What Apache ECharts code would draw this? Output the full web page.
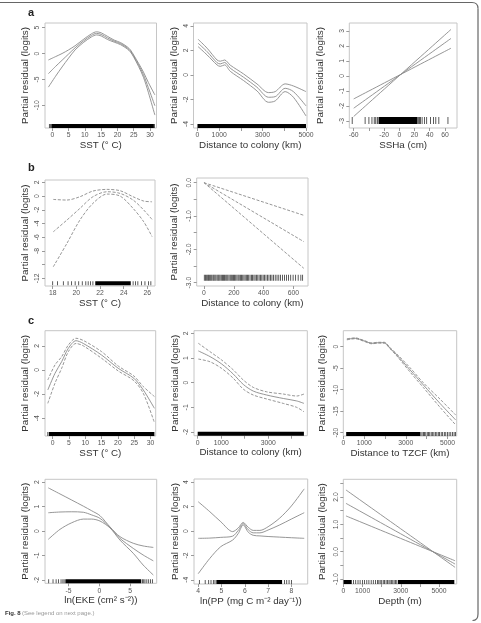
<!DOCTYPE html>
<html><head><meta charset="utf-8">
<script src="https://cdn.jsdelivr.net/npm/echarts@6/dist/echarts.min.js"></script>
<style>html,body{margin:0;padding:0;background:#fff}#c{width:481px;height:623px}</style>
</head><body><div id="c"></div>
<script>
// ================= DATA =================
const yTitle = 'Partial residual (logits)';

// ---- panel a1 : SST ----
const a1X   = [-1.2, 1, 3, 5, 7, 9.5, 12, 13.6, 15, 17, 19, 21, 23, 24, 25, 26.5, 28, 29.5, 31.5];
const a1Fit = [-3.9, -2.5, -1.3, -0.1, 1.1, 2.4, 3.5, 3.9, 3.7, 3.0, 2.4, 1.9, 1.1, 0.5, -0.5, -2.2, -4.1, -6.6, -10.1];
const a1Up  = [-1.25, -0.6, 0.0, 0.7, 1.5, 2.7, 3.8, 4.2, 4.0, 3.3, 2.6, 2.1, 1.3, 0.7, -0.3, -1.9, -3.6, -5.6, -8.0];
const a1Lo  = [-6.5, -4.4, -2.6, -0.9, 0.7, 2.1, 3.2, 3.6, 3.4, 2.7, 2.2, 1.7, 0.9, 0.3, -0.7, -2.5, -4.6, -7.5, -11.9];
const a1XTicks = [0, 5, 10, 15, 20, 25, 30];
const a1YTicks = [-10, -5, 0, 5];
const a1RugBands = [[-0.3, 31.2]];
const a1RugTicks = [-0.9, -0.6, 31.4];

// ---- panel a2 : distance to colony ----
const a2X   = [30, 445, 900, 1050, 1250, 1510, 2125, 2740, 3270, 3580, 4040, 4420, 5000];
const a2Fit = [2.59, 1.9, 1.0, 0.9, 1.02, 0.55, -0.19, -1.0, -1.82, -1.77, -1.09, -1.36, -2.53];
const a2Up  = [2.91, 2.18, 1.22, 1.12, 1.22, 0.8, 0.08, -0.73, -1.44, -1.36, -0.73, -0.9, -1.36];
const a2Lo  = [2.31, 1.63, 0.82, 0.7, 0.82, 0.3, -0.46, -1.3, -2.23, -2.12, -1.36, -1.82, -3.35];
const a2XTicks = [0, 1000, 2000, 3000, 4000, 5000];
const a2XLabels = [0, 1000, 3000, 5000];
const a2YTicks = [-4, -2, 0, 2, 4];
const a2RugBands = [[0, 5000]];
const a2RugTicks = [];

// ---- panel a3 : SSHa ----
const a3X  = [-60, 68];
const a3L1 = [-1.53, 1.85];
const a3L2 = [-2.15, 2.5];
const a3L3 = [-2.7, 3.1];
const a3XTicks = [-60, -40, -20, 0, 20, 40, 60];
const a3XLabels = [-60, -20, 0, 20, 40, 60];
const a3YTicks = [-3, -2, -1, 0, 1, 2, 3];
const a3RugBands = [[-27, 24]];
const a3RugTicks = [-62, -45, -40, -36, -33, -31, -29, -28, 25, 26.5, 28, 30, 33, 36, 41, 45, 48, 52, 64];

// ---- panel b1 : SST ----
const b1X   = [18.05, 19.2, 20.3, 21.4, 22.6, 23.7, 24.8, 25.7, 26.4];
const b1Up  = [-0.49, -0.58, -0.1, 0.73, 0.97, 0.78, -0.1, -0.73, -0.83];
const b1Fit = [-5.2, -3.5, -1.8, -0.1, 0.63, 0.39, -0.58, -2.04, -3.4];
const b1Lo  = [-10.3, -6.9, -3.5, -1.07, 0.29, 0.0, -1.8, -3.75, -5.9];
const b1XTicks = [18, 20, 22, 24, 26];
const b1YTicks = [-12, -10, -8, -6, -4, -2, 0, 2];
const b1YLabels = [-12, -8, -6, -4, -2, 0, 2];
const b1RugBands = [[21.6, 24.6]];
const b1RugTicks = [18.0, 18.4, 18.9, 19.3, 19.6, 19.9, 20.2, 20.5, 20.8, 21.0, 21.2, 21.4, 24.8, 25.0, 25.2, 25.5, 25.8, 26.1, 26.3];

// ---- panel b2 : distance to colony ----
const b2X   = [0, 670];
const b2Up  = [0, -0.98];
const b2Fit = [0, -1.77];
const b2Lo  = [0, -2.57];
const b2XTicks = [0, 200, 400, 600];
const b2YTicks = [-3, -2.5, -2, -1.5, -1, -0.5, 0];
const b2YLabels = [-3, -2, -1, 0];
const b2RugBands = [];
const b2RugTicks = [2, 10, 18, 25, 31, 38, 45, 52, 60, 66, 73, 80, 88, 95, 101, 108, 116, 124, 131, 138, 146, 153, 160, 168, 176, 183, 190, 198, 205, 213, 221, 229, 236, 244, 252, 260, 268, 276, 284, 292, 300, 309, 318, 326, 335, 343, 352, 361, 370, 379, 388, 397, 406, 416, 426, 436, 446, 456, 467, 478, 490, 502, 514, 527, 540, 553, 567, 582, 598, 615, 632, 650, 662];

// ---- panel c1 : SST ----
const c1X   = [-1.5, 0.7, 2.75, 4.8, 7.15, 9.4, 15, 20.1, 24.9, 27.8, 31.2];
const c1Up  = [-0.83, 0.42, 1.1, 2.07, 2.63, 2.45, 1.52, 0.33, -0.5, -1.38, -2.2];
const c1Fit = [-1.66, -0.28, 0.69, 1.8, 2.43, 2.2, 1.24, 0.14, -0.69, -1.66, -3.18];
const c1Lo  = [-2.77, -1.1, 0.14, 1.52, 2.2, 2.0, 0.97, -0.08, -0.89, -1.94, -4.37];
const c1XTicks = [0, 5, 10, 15, 20, 25, 30];
const c1YTicks = [-4, -2, 0, 2];
const c1RugBands = [[-1.2, 31.2]];
const c1RugTicks = [-1.5];

// ---- panel c2 : distance to colony ----
const c2X   = [26, 523, 1020, 1515, 1940, 2366, 2936, 3643, 4213, 4523];
const c2Up  = [1.6, 1.26, 0.92, 0.52, 0.11, -0.19, -0.37, -0.46, -0.54, -0.46];
const c2Fit = [1.29, 1.06, 0.76, 0.35, -0.07, -0.34, -0.5, -0.64, -0.74, -0.84];
const c2Lo  = [0.96, 0.85, 0.58, 0.18, -0.26, -0.5, -0.66, -0.84, -1.0, -1.18];
const c2XTicks = [0, 1000, 2000, 3000, 4000];
const c2XLabels = [0, 1000, 3000];
const c2YTicks = [-2, -1, 0, 1, 2];
const c2RugBands = [[0, 4520]];
const c2RugTicks = [];

// ---- panel c3 : distance to TZCF ----
const c3X   = [168, 566, 965, 1368, 1684, 1958, 2246, 2567, 3205, 3844, 4645, 5398];
const c3Up  = [1.85, 2.05, 1.5, 0.88, 1.03, 1.03, -0.25, -1.7, -4.9, -8.4, -12.2, -15.9];
const c3Fit = [1.72, 1.95, 1.4, 0.78, 0.93, 0.93, -0.38, -1.93, -5.4, -8.9, -13.2, -17.05];
const c3Lo  = [1.6, 1.85, 1.3, 0.68, 0.83, 0.83, -0.5, -2.15, -5.9, -9.5, -14.1, -18.2];
const c3XTicks = [0, 1000, 2000, 3000, 4000, 5000];
const c3XLabels = [0, 1000, 3000, 5000];
const c3YTicks = [-20, -15, -10, -5, 0];
const c3RugBands = [[134, 3685]];
const c3RugTicks = [3720, 3780, 3850, 3900, 3960, 4030, 4090, 4150, 4220, 4290, 4350, 4420, 4490, 4560, 4620, 4700, 4770, 4850, 4920, 5000, 5080, 5160, 5240, 5320, 5390];

// ---- panel d1 : ln(EKE) ----
const d1X   = [-8.27, -6.37, -4.47, -2.59, -1.23, 0.11, 1.73, 3.35, 5.5, 7.1, 8.75];
const d1Up  = [1.77, 1.52, 1.27, 1.02, 0.83, 0.63, 0.17, -0.23, -0.5, -0.61, -0.67];
const d1Fit = [0.75, 0.78, 0.79, 0.77, 0.66, 0.52, 0.15, -0.3, -0.71, -0.98, -1.22];
const d1Lo  = [-0.34, 0.07, 0.34, 0.49, 0.49, 0.41, 0.13, -0.37, -0.91, -1.39, -1.8];
const d1XTicks = [-5, 0, 5];
const d1YTicks = [-2, -1, 0, 1, 2];
const d1RugBands = [[-5.5, 6.8]];
const d1RugTicks = [-8.2, -7.5, -7.0, -6.6, -6.2, -5.9, -5.7, 7.0, 7.2, 7.4, 7.7, 8.0, 8.3, 8.6];

// ---- panel d2 : ln(PP) ----
const d2X   = [4.0, 4.5, 4.97, 5.48, 5.72, 5.93, 6.15, 6.36, 6.65, 7.0, 7.5, 8.0, 8.55];
const d2Up  = [2.4, 1.58, 0.76, -0.05, 0.25, 0.7, 0.3, 0.05, 0.05, 0.35, 1.06, 2.05, 3.45];
const d2Fit = [-0.6, -0.58, -0.52, -0.42, 0.05, 0.6, 0.1, -0.15, -0.15, 0.08, 0.5, 0.98, 1.5];
const d2Lo  = [-3.5, -2.24, -1.28, -0.74, -0.2, 0.5, -0.1, -0.35, -0.4, -0.45, -0.5, -0.55, -0.6];
const d2XTicks = [4, 5, 6, 7, 8];
const d2YTicks = [-4, -2, 0, 2, 4];
const d2RugBands = [[4.8, 7.6]];
const d2RugTicks = [4.05, 4.3, 4.45, 4.55, 4.65, 4.72, 4.78, 7.7, 7.8, 7.9, 8.0];

// ---- panel d3 : depth ----
const d3X  = [130, 5840];
const d3L1 = [2.26, -0.57];
const d3L2 = [1.77, -0.45];
const d3L3 = [1.31, -0.33];
const d3XTicks = [0, 1000, 2000, 3000, 4000, 5000];
const d3XLabels = [0, 1000, 3000, 5000];
const d3YTicks = [-1, -0.5, 0, 0.5, 1, 1.5, 2, 2.5];
const d3YLabels = [-1, 0, 1, 2];
const d3RugBands = [[0, 430], [2850, 5800]];
const d3RugTicks = [520, 640, 760, 870, 990, 1100, 1220, 1330, 1450, 1560, 1680, 1780, 1850, 1920, 2000, 2080, 2150, 2230, 2300, 2380, 2440, 2520, 2580, 2650, 2720, 2790];

// ================= LAYOUT / STYLE =================
const SOLID = 'solid', DASH = [3, 1.6];
const panels = [
  {box:[45,23,156.5,128], xr:[-2.24,32.0], yr:[-14.4,5.9], xTitle:'SST (° C)', xT:a1XTicks, xL:a1XTicks, yT:a1YTicks, yL:a1YTicks, dec:0,
   lines:[[a1X,a1Up,SOLID],[a1X,a1Fit,SOLID],[a1X,a1Lo,SOLID]], bands:a1RugBands, ticks:a1RugTicks, rugBase:null, rugH:4, xng:12, yng:15},
  {box:[193.5,23,307,128], xr:[-183,5046], yr:[-4.33,4.24], xTitle:'Distance to colony (km)', xT:a2XTicks, xL:a2XLabels, yT:a2YTicks, yL:a2YTicks, dec:0,
   lines:[[a2X,a2Up,SOLID],[a2X,a2Fit,SOLID],[a2X,a2Lo,SOLID]], bands:a2RugBands, ticks:a2RugTicks, rugBase:null, rugH:4, xng:12, yng:14},
  {box:[349.3,23,457,128], xr:[-65.8,75.9], yr:[-3.47,3.53], xTitle:'SSHa (cm)', xT:a3XTicks, xL:a3XLabels, yT:a3YTicks, yL:a3YTicks, dec:0,
   lines:[[a3X,a3L1,SOLID],[a3X,a3L2,SOLID],[a3X,a3L3,SOLID]], bands:a3RugBands, ticks:a3RugTicks, rugBase:-3.2, rugH:7, xng:12, yng:24},
  {box:[45,180,155,286], xr:[17.35,26.65], yr:[-13.1,2.34], xTitle:'SST (° C)', xT:b1XTicks, xL:b1XTicks, yT:b1YTicks, yL:b1YLabels, dec:0,
   lines:[[b1X,b1Up,DASH],[b1X,b1Fit,DASH],[b1X,b1Lo,DASH]], bands:b1RugBands, ticks:b1RugTicks, rugBase:-13.0, rugH:4, xng:8.5, yng:15},
  {box:[196.7,178,308,286], xr:[-49,698], yr:[-3.1,0.14], xTitle:'Distance to colony (km)', xT:b2XTicks, xL:b2XTicks, yT:b2YTicks, yL:b2YLabels, dec:1,
   lines:[[b2X,b2Up,DASH],[b2X,b2Fit,DASH],[b2X,b2Lo,DASH]], bands:b2RugBands, ticks:b2RugTicks, rugBase:-2.94, rugH:6, xng:9, yng:17},
  {box:[45,330.7,155.7,436], xr:[-2.36,31.6], yr:[-5.48,3.26], xTitle:'SST (° C)', xT:c1XTicks, xL:c1XTicks, yT:c1YTicks, yL:c1YTicks, dec:0,
   lines:[[c1X,c1Up,DASH],[c1X,c1Fit,SOLID],[c1X,c1Lo,DASH]], bands:c1RugBands, ticks:c1RugTicks, rugBase:null, rugH:4, xng:9.5, yng:15},
  {box:[194,330.7,307.3,435.7], xr:[-157,4664], yr:[-2.15,2.11], xTitle:'Distance to colony (km)', xT:c2XTicks, xL:c2XLabels, yT:c2YTicks, yL:c2YTicks, dec:0,
   lines:[[c2X,c2Up,DASH],[c2X,c2Fit,SOLID],[c2X,c2Lo,DASH]], bands:c2RugBands, ticks:c2RugTicks, rugBase:null, rugH:4, xng:12, yng:14},
  {box:[343.3,330.7,456.7,436], xr:[-5,5445], yr:[-20.77,3.72], xTitle:'Distance to TZCF (km)', xT:c3XTicks, xL:c3XLabels, yT:c3YTicks, yL:c3YTicks, dec:0,
   lines:[[c3X,c3Up,DASH],[c3X,c3Fit,SOLID],[c3X,c3Lo,DASH]], bands:c3RugBands, ticks:c3RugTicks, rugBase:null, rugH:4, xng:11.5, yng:16},
  {box:[45,479.3,156.7,583.3], xr:[-8.8,9.3], yr:[-2.14,2.12], xTitle:'ln(EKE (cm² s⁻²))', xT:d1XTicks, xL:d1XTicks, yT:d1YTicks, yL:d1YTicks, dec:0,
   lines:[[d1X,d1Up,SOLID],[d1X,d1Fit,SOLID],[d1X,d1Lo,SOLID]], bands:d1RugBands, ticks:d1RugTicks, rugBase:null, rugH:4, xng:10, yng:15},
  {box:[194,479,307.7,584], xr:[3.82,8.7], yr:[-4.34,4.26], xTitle:'ln(PP (mg C m⁻² day⁻¹))', xT:d2XTicks, xL:d2XTicks, yT:d2YTicks, yL:d2YTicks, dec:0,
   lines:[[d2X,d2Up,SOLID],[d2X,d2Fit,SOLID],[d2X,d2Lo,SOLID]], bands:d2RugBands, ticks:d2RugTicks, rugBase:null, rugH:4, xng:10, yng:14},
  {box:[343.3,479.3,456.7,584], xr:[-10,5925], yr:[-1.18,2.65], xTitle:'Depth (m)', xT:d3XTicks, xL:d3XLabels, yT:d3YTicks, yL:d3YLabels, dec:1,
   lines:[[d3X,d3L1,SOLID],[d3X,d3L2,SOLID],[d3X,d3L3,SOLID]], bands:d3RugBands, ticks:d3RugTicks, rugBase:null, rugH:4, xng:12, yng:16}
];

const FONT = '"Liberation Sans", Arial, Helvetica, sans-serif';
const LINE_COLOR = '#8a8a8a';
const zip = (xs, ys) => xs.map((x, i) => [x, ys[i]]);

const grids = [], xAxes = [], yAxes = [], series = [];
panels.forEach((p, i) => {
  const [x0, y0, x1, y1] = p.box;
  grids.push({left:x0, top:y0, width:x1-x0, height:y1-y0, show:true, borderColor:'#c6c6c6', borderWidth:1,
              backgroundColor:'transparent', containLabel:false, outerBoundsMode:'none'});
  xAxes.push({type:'value', gridIndex:i, min:p.xr[0], max:p.xr[1], position:'bottom',
    axisLine:{show:false, onZero:false}, splitLine:{show:false},
    axisTick:{show:true, inside:false, length:3, customValues:p.xT, lineStyle:{color:'#9a9a9a', width:1}},
    axisLabel:{show:true, customValues:p.xL, fontSize:6.8, color:'#555', margin:4, fontFamily:FONT,
               formatter:(v)=>String(v)},
    name:p.xTitle, nameLocation:'middle', nameGap:p.xng,
    nameTextStyle:{fontSize:9.8, color:'#333', fontFamily:FONT}});
  yAxes.push({type:'value', gridIndex:i, min:p.yr[0], max:p.yr[1], position:'left',
    axisLine:{show:false, onZero:false}, splitLine:{show:false},
    axisTick:{show:true, inside:false, length:3, customValues:p.yT, lineStyle:{color:'#9a9a9a', width:1}},
    axisLabel:{show:true, customValues:p.yL, rotate:90, fontSize:6.8, color:'#555', margin:4, fontFamily:FONT,
               formatter:(v)=> p.dec ? Number(v).toFixed(p.dec) : String(v)},
    name:yTitle, nameLocation:'middle', nameRotate:90, nameGap:p.yng,
    nameTextStyle:{fontSize:9.8, color:'#333', fontFamily:FONT}});
  p.lines.forEach(([xs, ys, dash]) => {
    series.push({type:'line', xAxisIndex:i, yAxisIndex:i, data:zip(xs, ys), showSymbol:false, symbol:'none',
      smooth:0.3, silent:true, clip:true, lineStyle:{color:LINE_COLOR, width:0.9, type:dash}});
  });
  const base = p.rugBase == null ? p.yr[0] : p.rugBase;
  const rugData = p.bands.map(b => [b[0], b[1]]).concat(p.ticks.map(t => [t, t]));
  series.push({type:'custom', xAxisIndex:i, yAxisIndex:i, coordinateSystem:'cartesian2d', silent:true,
    encode:{x:[0, 1]}, data:rugData,
    renderItem:(params, api) => {
      const a = api.value(0), b = api.value(1);
      const pa = api.coord([a, base]), pb = api.coord([b, base]);
      const single = (a === b);
      const w = single ? 0.8 : Math.max(pb[0] - pa[0], 0.8);
      return {type:'rect', shape:{x: single ? pa[0] - 0.4 : pa[0], y: pa[1] - p.rugH, width:w, height:p.rugH},
              style:{fill: single ? '#333' : '#000'}};
    }});
});

const frameStyle = {stroke:'#666', fill:null, lineWidth:1.2};
const chart = echarts.init(document.getElementById('c'), null, {renderer:'canvas', width:481, height:623});
chart.setOption({
  animation:false,
  textStyle:{fontFamily:FONT},
  grid:grids, xAxis:xAxes, yAxis:yAxes, series:series,
  graphic:[
    {type:'polyline', silent:true, shape:{points:[[0,2.5],[472,2.5]]}, style:frameStyle},
    {type:'bezierCurve', silent:true, shape:{x1:472, y1:2.5, x2:478, y2:8.5, cpx1:478, cpy1:2.5}, style:frameStyle},
    {type:'polyline', silent:true, shape:{points:[[478,8.5],[478,614]]}, style:frameStyle},
    {type:'bezierCurve', silent:true, shape:{x1:478, y1:614, x2:472.5, y2:620.5, cpx1:478, cpy1:620.5}, style:frameStyle},
    {type:'text', left:28, top:7, style:{text:'a', fontSize:11, fontWeight:'bold', fill:'#222', fontFamily:FONT}},
    {type:'text', left:28, top:162, style:{text:'b', fontSize:11, fontWeight:'bold', fill:'#222', fontFamily:FONT}},
    {type:'text', left:28, top:315, style:{text:'c', fontSize:11, fontWeight:'bold', fill:'#222', fontFamily:FONT}},
    {type:'text', left:5, top:610, style:{text:'Fig. 8', fontSize:6, fontWeight:'bold', fill:'#333', fontFamily:FONT}},
    {type:'text', left:22, top:610, style:{text:'(See legend on next page.)', fontSize:6, fill:'#999', fontFamily:FONT}}
  ]
});
</script></body></html>
